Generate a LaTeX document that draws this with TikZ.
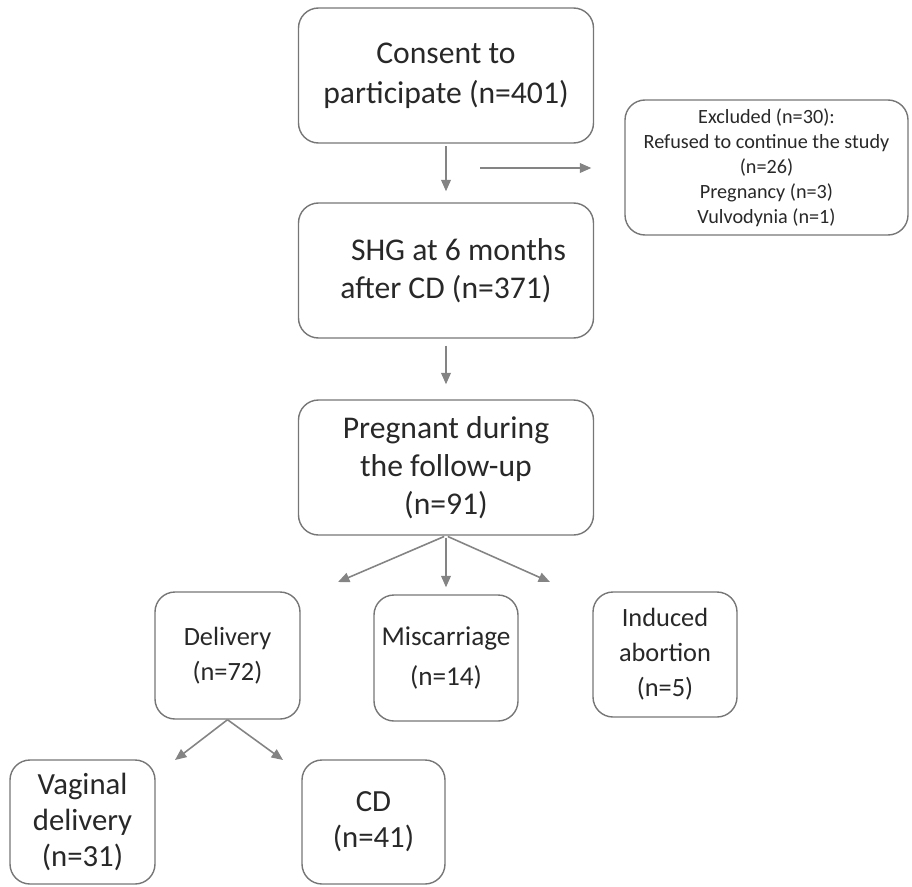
\documentclass[tikz,border=0pt]{standalone}
\usepackage{fontspec}
\setmainfont{Carlito}
\usetikzlibrary{arrows.meta}

\definecolor{framegray}{RGB}{118,118,118}
\definecolor{linkgray}{RGB}{132,132,132}
\definecolor{inkgray}{RGB}{40,40,40}

\tikzset{
  box/.style={draw=framegray, line width=0.8pt, rounded corners=0.4cm, align=center, text=inkgray, inner sep=0.1cm},
  bigbox/.style={box, minimum width=5.9cm, minimum height=2.7cm, font=\fontsize{18}{21.5}\selectfont},
  smallbox/.style={box, minimum width=2.9cm, minimum height=2.52cm, font=\fontsize{15}{20}\selectfont},
  link/.style={draw=linkgray, line width=0.9pt, ->},
}

\begin{document}
\begin{tikzpicture}[>={Triangle[length=6.5pt,width=5.5pt]}]
  \useasboundingbox (0,0) rectangle (18.24,-17.72);

  % main column
  \node[bigbox, font=\fontsize{18}{22.7}\selectfont] (consent) at (8.92,-1.51) {Consent to\\participate (n=401)};
  \node[bigbox] (shg) at (8.92,-5.41) {\hspace*{0.5cm}SHG at 6 months\\after CD (n=371)};
  \node[bigbox] (preg) at (8.92,-9.35) {Pregnant during\\the follow-up\\(n=91)};

  % excluded participants
  \node[box, minimum width=5.66cm, minimum height=2.7cm, font=\fontsize{11.5}{14.2}\selectfont] (excl) at (15.33,-3.35)
    {Excluded (n=30):\\Refused to continue the study\\(n=26)\\Pregnancy (n=3)\\Vulvodynia (n=1)};

  % outcomes of pregnancy
  \node[smallbox, minimum height=2.54cm] (deliv) at (4.55,-13.11) {Delivery\\(n=72)};
  \node[smallbox, minimum width=2.88cm, font=\fontsize{15.5}{23}\selectfont] (misc) at (8.92,-13.16) {Miscarriage\\(n=14)};
  \node[smallbox, minimum width=2.88cm, minimum height=2.5cm] (induced) at (13.3,-13.09) {Induced\\abortion\\(n=5)};

  % mode of delivery
  \node[smallbox, minimum height=2.48cm, font=\fontsize{17.5}{20.5}\selectfont] (vag) at (1.65,-16.44) {Vaginal\\delivery\\(n=31)};
  \node[smallbox, minimum width=2.86cm, minimum height=2.48cm, font=\fontsize{17.5}{20.5}\selectfont] (cd) at (7.47,-16.44) {CD\\(n=41)};

  % free arrow ends
  \coordinate (split) at (9.6,-3.36);
  \coordinate (tipdel) at (6.76,-11.64);
  \coordinate (tipind) at (11.0,-11.64);
  \coordinate (tipvag) at (3.5,-15.2);
  \coordinate (tipcd) at (5.66,-15.2);

  % arrows
  \draw[link, shorten <=0.05cm, shorten >=0.22cm] (consent.south) -- (shg.north);
  \draw[link, shorten >=0.66cm] (split) -- (split -| excl.west);
  \draw[link, shorten <=0.14cm, shorten >=0.3cm] (shg.south) -- (preg.north);

  \draw[link, shorten <=0.04cm] (preg.south) -- (tipdel);
  \draw[link, shorten <=0.04cm, shorten >=0.14cm] (preg.south) -- (misc.north);
  \draw[link, shorten <=0.04cm] (preg.south) -- (tipind);

  \draw[link] (deliv.south) -- (tipvag);
  \draw[link] (deliv.south) -- (tipcd);
\end{tikzpicture}
\end{document}
